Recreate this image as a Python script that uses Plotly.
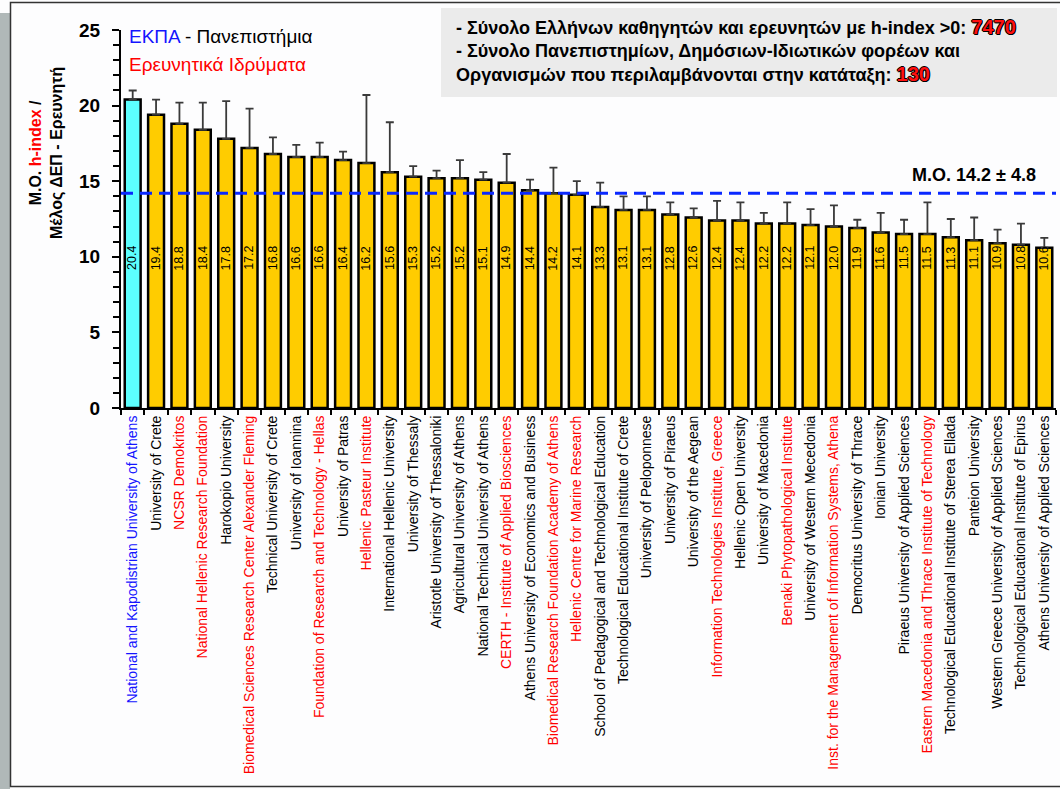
import plotly.graph_objects as go

# ---------------- data ----------------
institutions = [
    "National and Kapodistrian University of Athens",
    "University of Crete",
    "NCSR Demokritos",
    "National Hellenic Research Foundation",
    "Harokopio University",
    "Biomedical Sciences Research Center Alexander Fleming",
    "Technical University of Crete",
    "University of Ioannina",
    "Foundation of Research and Technology - Hellas",
    "University of Patras",
    "Hellenic Pasteur Institute",
    "International Hellenic University",
    "University of Thessaly",
    "Aristotle University of Thessaloniki",
    "Agricultural University of Athens",
    "National Technical University of Athens",
    "CERTH - Institute of Applied Biosciences",
    "Athens University of Economics and Business",
    "Biomedical Research Foundation Academy of Athens",
    "Hellenic Centre for Marine Research",
    "School of Pedagogical and Technological Education",
    "Technological Educational Institute of Crete",
    "University of Peloponnese",
    "University of Piraeus",
    "University of the Aegean",
    "Information Technologies Institute, Greece",
    "Hellenic Open University",
    "University of Macedonia",
    "Benaki Phytopathological Institute",
    "University of Western Mecedonia",
    "Inst. for the Management of Information Systems, Athena",
    "Democritus University of Thrace",
    "Ionian University",
    "Piraeus University of Applied Sciences",
    "Eastern Macedonia and Thrace Institute of Technology",
    "Technological Educational Institute of Sterea Ellada",
    "Panteion University",
    "Western Greece University of Applied Sciences",
    "Technological Educational Institute of Epirus",
    "Athens University of Applied Sciences",
]
# E = ΕΚΠΑ, U = university, R = research institute
inst_type = ["E", "U", "R", "R", "U", "R", "U", "U", "R", "U",
             "R", "U", "U", "U", "U", "U", "R", "U", "R", "R",
             "U", "U", "U", "U", "U", "R", "U", "U", "R", "U",
             "R", "U", "U", "U", "R", "U", "U", "U", "U", "U"]
mean_h = [20.4, 19.4, 18.8, 18.4, 17.8, 17.2, 16.8, 16.6, 16.6, 16.4,
          16.2, 15.6, 15.3, 15.2, 15.2, 15.1, 14.9, 14.4, 14.2, 14.1,
          13.3, 13.1, 13.1, 12.8, 12.6, 12.4, 12.4, 12.2, 12.2, 12.1,
          12.0, 11.9, 11.6, 11.5, 11.5, 11.3, 11.1, 10.9, 10.8, 10.6]
err_h = [0.6, 1.0, 1.4, 1.8, 2.5, 2.6, 1.1, 0.8, 0.95, 0.55,
         4.5, 3.3, 0.7, 0.5, 1.2, 0.5, 1.9, 0.7, 1.7, 0.9,
         1.6, 0.9, 0.9, 0.8, 0.6, 1.3, 1.2, 0.7, 1.4, 1.05,
         1.4, 0.55, 1.3, 0.95, 2.1, 1.2, 1.5, 0.9, 1.4, 0.65]
overall_mean = 14.2
overall_sd = 4.8
total_researchers = 7470
total_orgs = 130
y_ticks = [0, 5, 10, 15, 20, 25]

# ---------------- styling ----------------
FONT = "Liberation Sans, Arial, sans-serif"
BLUE = "#1414ff"
RED = "#ff0000"
type_color = {"E": BLUE, "U": "#000000", "R": RED}
bar_color = {"E": "#5cffff", "U": "#ffcc00", "R": "#ffcc00"}

W_PX, H_PX = 1060, 789
L, R, T, B = 121, 4, 30, 381
PW = W_PX - L - R
PH = H_PX - T - B


def xp(px):
    return (px - L) / PW


def yp(py):
    return (T + PH - py) / PH


ticktext = [f"<span style='color:{type_color[t]}'>{n}</span>"
            for n, t in zip(institutions, inst_type)]

fig = go.Figure()
fig.add_trace(go.Bar(
    x=institutions,
    y=mean_h,
    marker=dict(color=[bar_color[t] for t in inst_type],
                line=dict(color="#000000", width=2.5)),
    error_y=dict(type="data", symmetric=False, array=err_h,
                 arrayminus=[0] * len(err_h),
                 color="#3a3a3a", thickness=1.8, width=4),
    hoverinfo="x+y",
    showlegend=False,
))

annotations = []
LABEL_Y = 9.9
for n, v in zip(institutions, mean_h):
    annotations.append(dict(
        x=n, y=LABEL_Y, xref="x", yref="y", text=f"{v:.1f}",
        textangle=-90, showarrow=False, xanchor="center", yanchor="middle",
        font=dict(family=FONT, size=12.5, color="#000000"),
    ))

# y-axis title
annotations.append(dict(
    x=xp(46), y=yp(153), xref="paper", yref="paper",
    xanchor="center", yanchor="middle",
    text="Μ.Ο. <span style='color:#ff0000'>h-index</span> /<br>Μέλος ΔΕΠ - Ερευνητή",
    textangle=-90, showarrow=False, align="center",
    font=dict(family=FONT, size=16, color="#000000", weight="bold"),
))
# legend text (top-left)
annotations.append(dict(
    x=xp(127), y=yp(37), xref="paper", yref="paper",
    xanchor="left", yanchor="middle",
    text=f"<span style='color:{BLUE}'>ΕΚΠΑ</span> - Πανεπιστήμια",
    showarrow=False,
    font=dict(family=FONT, size=19, color="#000000"),
))
annotations.append(dict(
    x=xp(127), y=yp(64), xref="paper", yref="paper",
    xanchor="left", yanchor="middle",
    text="Ερευνητικά Ιδρύματα", showarrow=False,
    font=dict(family=FONT, size=19, color=RED),
))
# info box text
num_style = ("color:#ff1010;font-size:20px;"
             "text-shadow:-1px 0 #000,1px 0 #000,0 1px #000,"
             "0 -1px #000,1px 1px #000")
info_lines = [
    f"- Σύνολο Ελλήνων καθηγητών και ερευνητών με h-index >0: "
    f"<span style='{num_style}'>{total_researchers}</span>",
    "- Σύνολο Πανεπιστημίων, Δημόσιων-Ιδιωτικών φορέων και",
    f"Οργανισμών που περιλαμβάνονται στην κατάταξη: "
    f"<span style='{num_style}'>{total_orgs}</span>",
]
for line, ypx in zip(info_lines, [27, 51, 74]):
    annotations.append(dict(
        x=xp(454), y=yp(ypx), xref="paper", yref="paper",
        xanchor="left", yanchor="middle",
        text=line, showarrow=False,
        font=dict(family=FONT, size=18, color="#000000", weight="bold"),
    ))
# mean label
annotations.append(dict(
    x=xp(1038), y=yp(175), xref="paper", yref="paper",
    xanchor="right", yanchor="middle",
    text=f"M.O. {overall_mean} ± {overall_sd}", showarrow=False,
    font=dict(family=FONT, size=18, color="#000000", weight="bold"),
))

shapes = [
    # grey strip at the left
    dict(type="rect", xref="paper", yref="paper", x0=xp(0), x1=xp(10),
         y0=yp(789), y1=yp(13), fillcolor="#b0b8b8", line=dict(width=0),
         layer="below"),
    # frame
    dict(type="rect", xref="paper", yref="paper", x0=xp(10.5), x1=xp(1064),
         y0=yp(786.5), y1=yp(2.5), fillcolor="rgba(0,0,0,0)",
         line=dict(color="#333333", width=1.5), layer="below"),
    # info box
    dict(type="rect", xref="paper", yref="paper", x0=xp(441), x1=xp(1057),
         y0=yp(97), y1=yp(8), fillcolor="#ebebeb", line=dict(width=0),
         layer="below"),
    # mean line
    dict(type="line", xref="paper", yref="y", x0=0, x1=1,
         y0=overall_mean, y1=overall_mean,
         line=dict(color="#0a28ff", width=3, dash="12px,7px"), layer="above"),
]

fig.update_layout(
    width=W_PX, height=H_PX,
    margin=dict(l=L, r=R, t=T, b=B, autoexpand=False),
    paper_bgcolor="#fdfdfe",
    plot_bgcolor="rgba(0,0,0,0)",
    bargap=0.32,
    font=dict(family=FONT, color="#000000"),
    annotations=annotations,
    shapes=shapes,
    xaxis=dict(
        tickmode="array", tickvals=institutions, ticktext=ticktext,
        tickangle=-90, tickfont=dict(family=FONT, size=14),
        showline=True, linecolor="#000000", linewidth=2,
        ticks="outside", ticklen=5, tickwidth=2, tickcolor="#000000",
        tickson="boundaries", showgrid=False, zeroline=False,
        range=[-0.5, len(institutions) - 0.5],
    ),
    yaxis=dict(
        range=[0, 25], tickmode="array", tickvals=y_ticks,
        tickfont=dict(family=FONT, size=19, weight="bold"),
        showline=True, linecolor="#000000", linewidth=2,
        ticks="outside", ticklen=7, tickwidth=2, tickcolor="#000000",
        minor=dict(dtick=1, ticks="outside", ticklen=6, tickwidth=2,
                   tickcolor="#000000", showgrid=False),
        ticklabelstandoff=8,
        showgrid=False, zeroline=False,
    ),
)

fig.write_html(
    "out.html",
    config={"displayModeBar": False},
    post_script="document.body.style.margin='0';"
                "document.body.style.overflow='hidden';",
)
